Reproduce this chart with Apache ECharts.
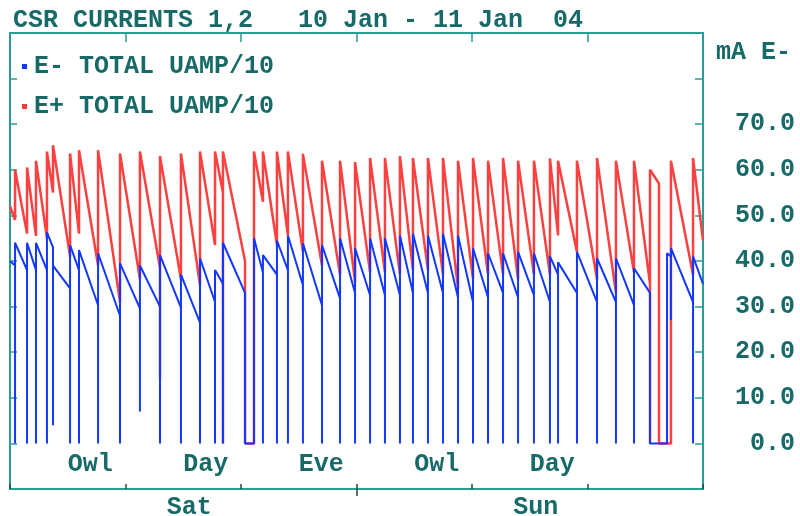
<!DOCTYPE html>
<html><head><meta charset="utf-8">
<script src="https://cdn.jsdelivr.net/npm/echarts@6/dist/echarts.min.js"></script>
<style>html,body{margin:0;padding:0;background:#fff}#c{width:800px;height:516px}</style>
</head><body><div id="c"></div>
<script>
const titleText = 'CSR CURRENTS 1,2   10 Jan - 11 Jan  04';
const unitText = 'mA E-';
const seriesNames = ['E- TOTAL UAMP/10', 'E+ TOTAL UAMP/10'];
const shiftLabels = ['Owl', 'Day', 'Eve', 'Owl', 'Day', ''];
const dayLabels = ['Sat', 'Sun'];
const yTickValues = [0, 10, 20, 30, 40, 50, 60, 70];
const midnightHours = [24];

// time in hours from 10 Jan 00:00
const startHour = 0, endHour = 48;
const redStart = 52, blueStart = 40;
const redEnd = 44.5, blueEnd = 35;

// refill events: hour, value just before, optional dip, value just after
const eventHours = [0.35, 1.18, 1.80, 2.56, 2.98, 4.16, 4.78, 6.10, 7.62, 9.00,
  10.39, 11.84, 13.16, 14.20, 14.75, 16.28, 16.90, 17.52, 18.49, 19.25,
  20.29, 21.61, 22.86, 23.90, 24.94, 25.97, 27.01, 27.91, 28.95, 29.99,
  31.03, 32.07, 33.11, 34.15, 35.19, 36.29, 37.40, 37.96, 39.27, 40.66,
  41.97, 43.22, 44.33, 44.95, 45.51, 45.78, 47.31];
const redBefore = [49, 46, 45.5, 45, 55, 41, 46, 39, 31, 36,
  38.4, 36, 34.7, 43.5, 55, 40, 0, 53, 43.5, 45.6,
  42, 39, 37, 35.4, 37.5, 37.5, 37, 38, 38, 37,
  34, 36, 37, 37, 36, 37, 37, 45.6, 42, 36,
  33, 37.5, 35, 57, 0, 0, 37];
const redDip = [null, null, null, null, null, null, null, null, null, null,
  14, null, null, null, 0, null, null, null, null, null,
  null, null, null, null, null, null, null, null, null, null,
  null, null, null, null, null, null, null, null, null, null,
  null, null, 0, null, null, null, null];
const redAfter = [60, 60.5, 62, 64, 65.4, 63.6, 64.3, 64.3, 63.6, 64,
  63, 63.6, 64, 64, 64, 0, 64, 64, 64, 64,
  63.5, 62, 62, 61.7, 62.6, 62.6, 63, 62.6, 62.6, 62.6,
  62, 62.6, 62, 62.6, 62, 62, 62.5, 62, 62, 62.6,
  62, 62, 60, 0, 0, 62, 62.6];
const blueBefore = [39, 38, 38, 38, 43, 34, 38, 30.3, 28, 29.6,
  30, 29.8, 26.5, 31, 35, 33, 0, 37.5, 37, 38,
  34.7, 30.3, 31.8, 33, 32.5, 32.5, 32.5, 33, 33, 33,
  32, 31, 32, 33, 32, 32.5, 31, 37, 33, 31,
  31, 30.3, 33, 0, 0, 41, 31];
const blueDip = [0, 0, 0, 0, 4, 0, 0, 0, 0, 7,
  0, 0, 0, 0, 0, null, null, 0, 0, 0,
  0, 0, 0, 0, 0, 0, 0, 0, 0, 0,
  0, 0, 0, 0, 0, 0, 0, 0, 0, 0,
  0, 0, null, null, null, 27, 0];
const blueAfter = [44, 44, 44, 46.3, 39, 43.5, 42.4, 41.7, 39.5, 39,
  41.3, 37, 40.6, 38, 44, 0, 45, 41.3, 44.5, 45.6,
  43.9, 43.5, 45, 42.8, 45, 45, 45.6, 46, 45.6, 46,
  45.6, 42.8, 41.7, 41.7, 42, 41.7, 41, 39.7, 42, 40.6,
  40.6, 38.4, 0, 0, 41.7, 42.8, 41];

function build(start, before, dip, after, end) {
  const d = [[startHour, start]];
  eventHours.forEach((h, i) => {
    d.push([h, before[i]]);
    if (dip[i] !== null) d.push([h, dip[i]]);
    d.push([h, after[i]]);
  });
  d.push([endHour, end]);
  return d;
}

const FONT = '"Liberation Mono", "DejaVu Sans Mono", monospace';
const TEXT = '#176a68';
const LINE = '#2a9c96';
const TICK = '#1a4a48';
const FS = 25;

const chart = echarts.init(document.getElementById('c'), null, {renderer: 'canvas'});
chart.setOption({
  animation: false,
  backgroundColor: '#ffffff',
  title: [
    {text: titleText, left: 8, top: 3,
     textStyle: {fontFamily: FONT, fontSize: FS, fontWeight: 'bold', color: TEXT}},
    {text: unitText, right: 4, top: 35,
     textStyle: {fontFamily: FONT, fontSize: FS, fontWeight: 'bold', color: TEXT}}
  ],
  legend: {
    data: seriesNames, orient: 'vertical', left: 17, top: 49,
    icon: 'rect', itemWidth: 5, itemHeight: 5, itemGap: 15,
    textStyle: {fontFamily: FONT, fontSize: FS, fontWeight: 'bold', color: TEXT, lineHeight: 24, padding: [0, 0, 0, 2]}
  },
  grid: {left: 10, right: 97, top: 33, bottom: 27, containLabel: false, outerBoundsMode: 'none',
    show: true, borderColor: LINE, borderWidth: 2, backgroundColor: '#fff'},
  xAxis: [
    {type: 'value', min: startHour, max: endHour, interval: 8, position: 'bottom',
     axisLine: {show: false, onZero: false}, axisTick: {show: true, inside: true, length: 5, lineStyle: {color: TICK, width: 1.5}},
     axisLabel: {show: false}, splitLine: {show: false}},
    {type: 'value', min: startHour, max: endHour, interval: 8, position: 'top',
     axisLine: {show: false, onZero: false}, axisTick: {show: true, inside: true, length: 9, lineStyle: {color: LINE, width: 1.5}},
     axisLabel: {show: false}, splitLine: {show: false}},
    {type: 'category', data: shiftLabels, boundaryGap: true, position: 'bottom',
     axisLine: {show: false, onZero: false}, axisTick: {show: false}, splitLine: {show: false},
     axisLabel: {inside: true, align: 'left', margin: 12, interval: 0,
       fontFamily: FONT, fontSize: FS, fontWeight: 'bold', color: TEXT}},
    {type: 'category', data: dayLabels, boundaryGap: true, position: 'bottom',
     axisLine: {show: false, onZero: false}, axisTick: {show: false}, splitLine: {show: false},
     axisLabel: {margin: 6, interval: 0, padding: [0, 0, 0, 12],
       fontFamily: FONT, fontSize: FS, fontWeight: 'bold', color: TEXT}},
    {type: 'value', min: startHour, max: endHour, position: 'bottom',
     axisLine: {show: false, onZero: false}, axisTick: {show: true, inside: false, length: 7, customValues: midnightHours, lineStyle: {color: TICK, width: 1.5}},
     axisLabel: {show: false}, splitLine: {show: false}}
  ],
  yAxis: [
    {type: 'value', min: -10, max: 90, interval: 10, position: 'right',
     axisLine: {show: false, onZero: false}, axisTick: {show: true, inside: true, length: 8, lineStyle: {color: LINE, width: 1.5}},
     splitLine: {show: false},
     axisLabel: {customValues: yTickValues, formatter: v => v.toFixed(1), align: 'right', margin: 92,
       fontFamily: FONT, fontSize: FS, fontWeight: 'bold', color: TEXT}},
    {type: 'value', min: -10, max: 90, interval: 10, position: 'left',
     axisLine: {show: false, onZero: false}, axisTick: {show: true, inside: true, length: 7, lineStyle: {color: LINE, width: 1.5}},
     splitLine: {show: false}, axisLabel: {show: false}}
  ],
  series: [
    {name: seriesNames[1], type: 'line', xAxisIndex: 0, yAxisIndex: 0, symbol: 'none',
     color: '#ff3a3a', lineStyle: {color: '#ff4040', width: 2.5}, data: build(redStart, redBefore, redDip, redAfter, redEnd)},
    {name: seriesNames[0], type: 'line', xAxisIndex: 0, yAxisIndex: 0, symbol: 'none',
     color: '#1438ff', lineStyle: {color: '#1238ff', width: 2}, data: build(blueStart, blueBefore, blueDip, blueAfter, blueEnd)}
  ]
});
</script></body></html>
